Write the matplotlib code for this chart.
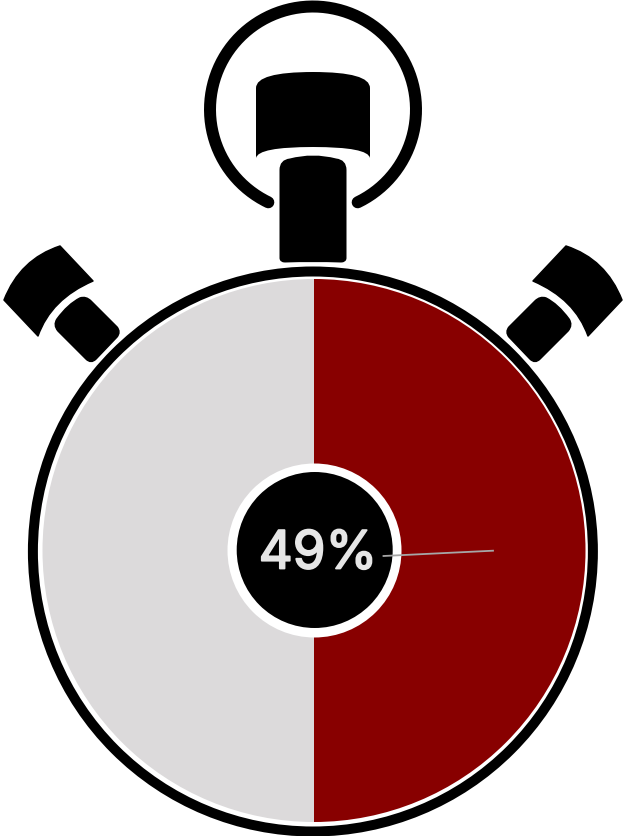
import matplotlib as mpl
mpl.use('Agg')
import matplotlib.pyplot as plt
import matplotlib.patheffects as pe
import numpy as np
from matplotlib.path import Path
from matplotlib.patches import PathPatch, Circle

W, H = 623, 836
CX = 314

# pie as drawn (label says 49, the split is drawn about even)
pie_values = [50, 50]
pie_colors = ['#880000', '#dcdadb']
label = '49%'

def up(y):
    return H - y

def shape(ax, moves, round_px=0):
    # moves: start point, then (x, y) line targets or (cx, cy, x, y) quad curves
    verts = [(moves[0][0], up(moves[0][1]))]
    codes = [Path.MOVETO]
    for m in moves[1:]:
        if len(m) == 2:
            verts.append((m[0], up(m[1])))
            codes.append(Path.LINETO)
        else:
            verts += [(m[0], up(m[1])), (m[2], up(m[3]))]
            codes += [Path.CURVE3, Path.CURVE3]
    verts.append(verts[0])
    codes.append(Path.CLOSEPOLY)
    ax.add_patch(PathPatch(Path(verts, codes), fc='black', ec='black',
                           lw=round_px * 0.72, joinstyle='round'))

def mirror(moves):
    out = []
    for m in moves:
        out.append(tuple(626 - v if i % 2 == 0 else v for i, v in enumerate(m)))
    return out

fig = plt.figure(figsize=(W / 100, H / 100), dpi=100)
ax = fig.add_axes([0, 0, 1, 1])

# top ring, gap at the bottom
a = np.radians(np.linspace(25.7, 334.3, 300))
ax.plot(313 + 103 * np.sin(a), up(109.5) - 103 * np.cos(a), color='black', lw=12 * 0.72,
        solid_capstyle='round')

# crown block
shape(ax, [(256, 88), (256, 72, 313, 72), (370, 72, 370, 88), (370, 158),
           (368, 147, 313, 147), (258, 147, 256, 158)])
# stem
shape(ax, [(281, 170), (281, 161, 290, 160), (313, 154, 336, 160), (345, 161, 345, 170), (345, 258),
           (345, 261, 341, 261), (313, 260, 285, 261), (281, 261, 281, 258)], 3)

# side buttons
outer = [(60, 246), (93, 281), (51, 299, 38, 336), (4, 300), (20, 259, 60, 246)]
inner = [(57, 319), (68, 304, 80, 298), (86, 296, 91, 301), (117, 327), (121, 332, 117, 337),
         (96, 359), (91, 364, 86, 359), (58, 331), (53, 325, 57, 319)]
for part in (outer, inner):
    shape(ax, part, 1.5)
    shape(ax, mirror(part), 1.5)

# case
ax.add_patch(Circle((312.9, up(551.5)), 285, fc='black', ec='none'))
ax.add_patch(Circle((312.9, up(551.5)), 275, fc='white', ec='none'))

ax.pie(pie_values, colors=pie_colors, center=(CX, up(550.5)), radius=271.5, startangle=90,
       counterclock=False, frame=True)

# hub
ax.add_patch(Circle((314.5, up(550.5)), 87, fc='white', ec='none', zorder=3))
ax.add_patch(Circle((314.7, up(550)), 78, fc='black', ec='none', zorder=4))
ax.text(318, up(555), label, color='#e6e6e6', fontsize=38, family='Inter',
        ha='center', va='center', zorder=5,
        path_effects=[pe.withStroke(linewidth=1.3, foreground='#e6e6e6')])
ax.plot([383.5, 493], [up(556), up(550.7)], color='#a6a6a6', lw=1.3, zorder=5)

ax.set_xlim(0, W)
ax.set_ylim(0, H)
ax.axis('off')
fig.savefig('out.png', dpi=100, facecolor='white')
